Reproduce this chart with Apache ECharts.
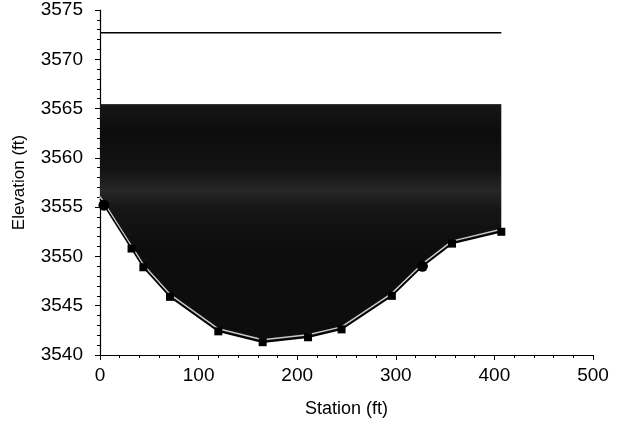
<!DOCTYPE html>
<html>
<head>
<meta charset="utf-8">
<script src="https://cdn.jsdelivr.net/npm/echarts@6/dist/echarts.min.js"></script>
<style>
html,body{margin:0;padding:0;background:#fff;}
#chart{width:617px;height:429px;}
</style>
</head>
<body>
<div id="chart"></div>
<script>
// Channel profile (station ft, elevation ft)
const profileStation = [0, 4, 32, 44, 71, 120, 165, 211, 245, 296, 327, 357, 407];
const profileElev    = [3555.8, 3555.2, 3550.8, 3548.9, 3545.9, 3542.4, 3541.3, 3541.8, 3542.6, 3546.0, 3549.0, 3551.3, 3552.5];
// Surveyed points (square markers)
const surveyStation = [32, 44, 71, 120, 165, 211, 245, 296, 357, 407];
const surveyElev    = [3550.8, 3548.9, 3545.9, 3542.4, 3541.3, 3541.8, 3542.6, 3546.0, 3551.3, 3552.5];
// Edge points (round markers)
const edgeStation = [4, 327];
const edgeElev    = [3555.2, 3549.0];
// Water surface and upper line
const waterElev = 3565.4;
const upperStation = [0, 407];
const upperElev = [3572.7, 3572.7];
// Axis ticks
const xTicks = [0, 100, 200, 300, 400, 500];
const yTicks = [3540, 3545, 3550, 3555, 3560, 3565, 3570, 3575];

const zip = (a, b) => a.map((v, i) => [v, b[i]]);
const font = '"Liberation Sans", Arial, sans-serif';

const chart = echarts.init(document.getElementById('chart'), null, {renderer: 'canvas'});
chart.setOption({
  animation: false,
  backgroundColor: '#fff',
  grid: {left: 100, right: 24, top: 10, bottom: 74, containLabel: false},
  xAxis: {
    type: 'value', min: xTicks[0], max: xTicks[xTicks.length - 1], interval: 100,
    name: 'Station (ft)', nameLocation: 'middle', nameGap: 45,
    nameTextStyle: {fontFamily: font, fontSize: 18, color: '#000'},
    axisLine: {show: true, lineStyle: {color: '#000', width: 1.2}},
    axisTick: {show: true, inside: false, length: 5, lineStyle: {color: '#000'}},
    minorTick: {show: true, splitNumber: 5, length: 3, lineStyle: {color: '#000'}},
    splitLine: {show: false},
    axisLabel: {fontFamily: font, fontSize: 19, color: '#000', margin: 11, formatter: v => String(v)}
  },
  yAxis: {
    type: 'value', min: yTicks[0], max: yTicks[yTicks.length - 1], interval: 5,
    name: 'Elevation (ft)', nameLocation: 'middle', nameGap: 72,
    nameTextStyle: {fontFamily: font, fontSize: 17, color: '#000'},
    axisLine: {show: true, lineStyle: {color: '#000', width: 1.2}},
    axisTick: {show: true, inside: false, length: 5, lineStyle: {color: '#000'}},
    minorTick: {show: true, splitNumber: 5, length: 3, lineStyle: {color: '#000'}},
    splitLine: {show: false},
    axisLabel: {fontFamily: font, fontSize: 19, color: '#000', margin: 17, formatter: v => String(v)}
  },
  series: [
    {
      type: 'line',
      data: zip(upperStation, upperElev),
      showSymbol: false,
      lineStyle: {color: '#000', width: 1.5},
      z: 3
    },
    {
      type: 'line',
      data: zip(profileStation, profileElev),
      showSymbol: false,
      lineStyle: {color: '#000', width: 1.5, shadowColor: '#c8c8c8', shadowOffsetY: -2.5, shadowBlur: 0},
      areaStyle: {
        origin: waterElev,
        opacity: 1,
        color: new echarts.graphic.LinearGradient(0, 0, 0, 1, [
          {offset: 0, color: '#161616'},
          {offset: 0.12, color: '#0c0c0c'},
          {offset: 0.28, color: '#141414'},
          {offset: 0.36, color: '#272727'},
          {offset: 0.44, color: '#161616'},
          {offset: 0.6, color: '#0d0d0d'},
          {offset: 1, color: '#0d0d0d'}
        ])
      },
      z: 2
    },
    {
      type: 'line',
      data: [[profileStation[0], waterElev], [profileStation[profileStation.length - 1], waterElev]],
      showSymbol: false,
      lineStyle: {color: '#222', width: 1},
      z: 3
    },
    {
      type: 'scatter',
      data: zip(surveyStation, surveyElev),
      symbol: 'rect', symbolSize: 8,
      itemStyle: {color: '#000', opacity: 1},
      z: 4
    },
    {
      type: 'scatter',
      data: zip(edgeStation, edgeElev),
      symbol: 'circle', symbolSize: 11,
      itemStyle: {color: '#000', opacity: 1},
      z: 4
    }
  ]
});
</script>
</body>
</html>
